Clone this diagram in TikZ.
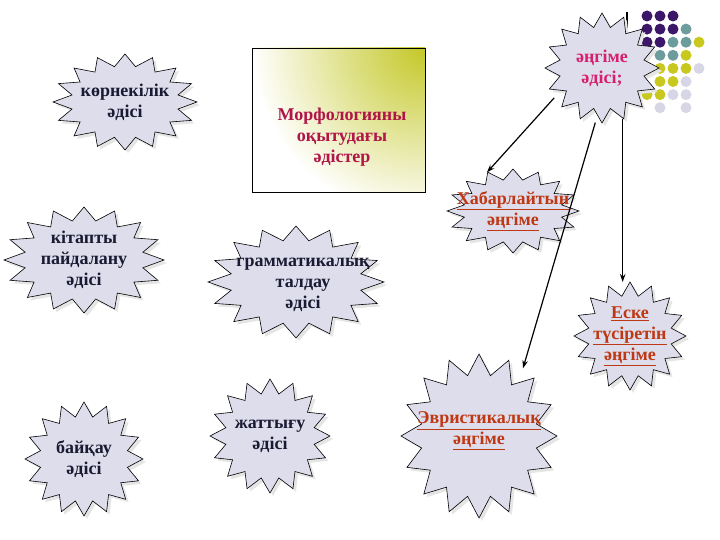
\documentclass[tikz,border=0pt]{standalone}
\usepackage{fontspec}
\setmainfont{Liberation Serif}
\usetikzlibrary{shapes, positioning, arrows.meta, calc}
\definecolor{burstfill}{RGB}{221,221,236}
\definecolor{inktext}{RGB}{26,26,51}
\definecolor{pinktext}{RGB}{214,32,110}
\definecolor{crimson}{RGB}{176,20,72}
\definecolor{rusttext}{RGB}{190,56,20}
\definecolor{boxyellow}{RGB}{196,200,40}
\definecolor{dotpurple}{RGB}{60,22,104}
\definecolor{dotteal}{RGB}{108,156,156}
\definecolor{dotyellow}{RGB}{200,200,30}
\definecolor{dotgray}{RGB}{214,214,230}

% star outline with a text spot in the middle
\newcommand{\burst}[6][]{%
  \fill[black!10, shift={(#3)}, shift={(3,3)}] plot[domain=0:31, samples=32, variable=\k]
    ({#4*(1-0.25*mod(round(\k),2))*cos(\k*11.25)}, {#5*(1-0.25*mod(round(\k),2))*sin(\k*11.25)}) -- cycle;
  \filldraw[fill=burstfill, draw=black, line width=0.6pt, shift={(#3)}] plot[domain=0:31, samples=32, variable=\k]
    ({#4*(1-0.25*mod(round(\k),2))*cos(\k*11.25)}, {#5*(1-0.25*mod(round(\k),2))*sin(\k*11.25)}) -- cycle;
  \node[spot, minimum width=2*#4pt, minimum height=2*#5pt, label={[lbl, #1]center:{#6}}] (#2) at (#3) {};
}

\begin{document}
\begin{tikzpicture}[x=1pt, y=-1pt,
    spot/.style={ellipse, inner sep=0, outer sep=0},
    lbl/.style={align=center, inner sep=0, text=inktext, font=\bfseries\fontsize{18}{21}\selectfont},
    red/.style={text=rusttext},
    link/.style={line width=1.2pt, -{Stealth[length=8pt, width=5.5pt]}},
    titlebox/.style={draw, line width=0.8pt, minimum width=173pt, minimum height=144pt,
      path picture={\shade[inner color=boxyellow, outer color=white] (path picture bounding box.north east) circle (170pt);}}]
  \useasboundingbox (0,0) rectangle (720,540);

  % dots in the corner
  \draw[line width=1.2pt] (627,12) -- (627,60);
  \foreach \row/\col/\c in {0/0/dotpurple, 0/1/dotpurple, 0/2/dotpurple,
      1/0/dotpurple, 1/1/dotpurple, 1/2/dotpurple, 1/3/dotteal,
      2/0/dotpurple, 2/1/dotpurple, 2/2/dotteal, 2/3/dotteal, 2/4/dotyellow,
      3/1/dotteal, 3/2/dotteal, 3/3/dotyellow,
      4/1/dotyellow, 4/2/dotyellow, 4/3/dotyellow, 4/4/dotgray,
      5/1/dotyellow, 5/2/dotyellow, 5/3/dotgray,
      6/0/dotyellow, 6/1/dotyellow, 6/2/dotgray, 6/3/dotgray,
      7/1/dotgray, 7/3/dotgray}
    \fill[\c] (647+13*\col, 16+13.1*\row) circle (5.5pt);

  \burst[text=pinktext]{talk}{602,68}{57}{55}{әңгіме\\әдісі;}
  \burst{seen}{125,102}{72}{48}{көрнекілік\\әдісі}
  \burst{book}{84,260}{80}{53}{кітапты\\пайдалану\\әдісі}
  \burst[xshift=7pt, yshift=-3pt]{gram}{296,282}{88}{56}{грамматикалық\\талдау\\әдісі}
  \burst{watch}{84,459}{59}{57}{байқау\\әдісі}
  \burst{drill}{270,436}{60}{57}{жаттығу\\әдісі}
  \burst[red]{hab}{513,211}{66}{42}{\underline{Хабарлайтын}\\\underline{әңгіме}}
  \burst[red]{esk}{630,336}{56}{54}{\underline{Еске}\\\underline{түсіретін}\\\underline{әңгіме}}
  \burst[red, yshift=5pt]{eur}{479,436}{78}{82}{\underline{Эвристикалық}\\\underline{әңгіме}}

  \node[titlebox] (title) at (338.5,120) {};
  \node[lbl, text=crimson] (titletext) at (342,137) {Морфологияны\\оқытудағы\\әдістер};

  \draw[link] (talk.-148) -- (hab.124);
  \draw[link] (talk.-97) -- (eur.57);
  \draw[link] (talk.-68) -- (talk.-68 |- esk.north);
\end{tikzpicture}
\end{document}
